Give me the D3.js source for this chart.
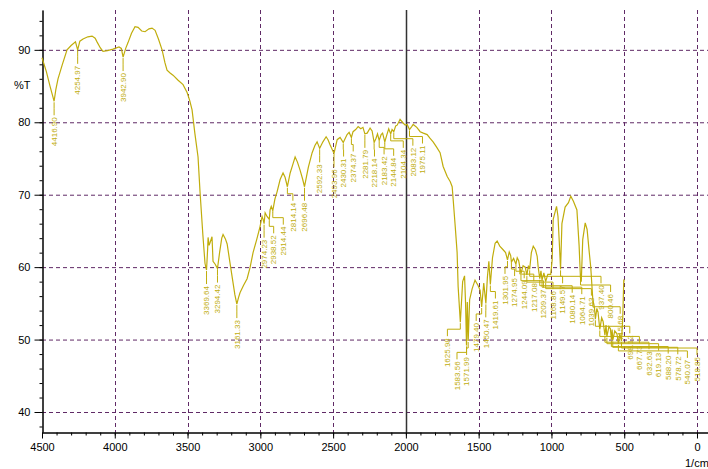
<!DOCTYPE html>
<html>
<head>
<meta charset="utf-8">
<script src="https://cdn.jsdelivr.net/npm/d3@7"></script>
<style>
  body { margin: 0; background: #fff; }
  svg { display: block; font-family: "Liberation Sans", Arial, sans-serif; }
</style>
</head>
<body>
<script>
// wavenumber (1/cm), %T
var spectrum = [
  [4500, 88.9], [4470, 87.0], [4445, 85.0], [4425, 83.5], [4416.9, 82.9], [4405, 84.5], [4390, 86.0],
  [4360, 88.0], [4328, 90.0], [4300, 90.6], [4270, 91.1], [4254.97, 90.0], [4240, 91.2], [4218, 91.5],
  [4185, 91.8], [4156, 91.9], [4135, 91.6], [4122, 91.1], [4100, 90.3], [4081, 89.8], [4050, 89.9],
  [4012, 90.1], [3971, 90.4], [3955, 90.2], [3942.9, 89.0], [3925, 90.2], [3909, 91.0], [3885, 92.3],
  [3861, 93.2], [3840, 93.1], [3815, 92.6], [3792, 92.5], [3765, 92.9], [3744, 93.0], [3723, 92.7],
  [3700, 91.5], [3675, 90.0], [3655, 88.2], [3641, 87.2], [3620, 86.8], [3600, 86.5], [3565, 85.8],
  [3531, 85.2], [3503, 84.1], [3485, 83.0], [3469, 81.7], [3450, 78.5], [3428, 75.2], [3414, 70.3],
  [3395, 64.5], [3380, 60.5], [3369.64, 59.6], [3362, 62.5], [3359, 64.1], [3352, 63.0], [3345, 63.4],
  [3332, 64.2], [3325, 60.8], [3310, 60.4], [3294.42, 59.8], [3280, 62.0], [3265, 64.0], [3256, 64.5],
  [3240, 63.9], [3228, 63.2], [3210, 60.8], [3194, 58.7], [3175, 56.2], [3161.33, 54.9], [3150, 55.8],
  [3139, 56.5], [3115, 57.5], [3091, 58.4], [3070, 60.0], [3050, 62.0], [3025, 63.8], [3002, 65.6],
  [2988, 67.0], [2981, 66.6], [2974.23, 66.0], [2967, 67.5], [2954, 67.0], [2938.52, 66.6], [2933, 67.9],
  [2925, 68.4], [2914.44, 67.8], [2900, 69.4], [2885, 70.4], [2864, 72.1], [2844, 73.0], [2830, 72.4],
  [2814.14, 71.1], [2795, 73.0], [2775, 74.3], [2761, 75.2], [2745, 74.5], [2727, 73.4], [2710, 72.2],
  [2696.48, 71.1], [2670, 73.8], [2644, 75.8], [2625, 76.8], [2610, 77.3], [2592.33, 76.4], [2570, 77.3],
  [2548, 78.0], [2535, 77.6], [2521, 76.9], [2493.96, 75.7], [2472, 77.6], [2452, 77.9], [2430.31, 77.2],
  [2404, 78.3], [2390, 78.6], [2374.37, 77.9], [2363, 78.7], [2345, 79.0], [2328, 79.4], [2310, 79.1],
  [2295, 79.3], [2281.79, 78.4], [2266, 78.5], [2246, 79.2], [2232, 78.8], [2218.14, 77.2], [2205, 77.8],
  [2195, 78.4], [2183.42, 77.5], [2170, 78.3], [2160, 78.5], [2144.84, 77.3], [2132, 78.2], [2118, 79.1],
  [2104.34, 78.4], [2095, 79.0], [2083.12, 78.7], [2070, 79.5], [2060, 79.6], [2040, 80.4], [2019, 79.9],
  [2005, 79.6], [1991, 79.7], [1975.11, 79.0], [1960, 79.4], [1950, 79.7], [1925, 79.3], [1902, 78.7],
  [1880, 78.5], [1854, 78.3], [1835, 77.8], [1813, 77.3], [1790, 76.6], [1765, 75.8], [1744, 73.9],
  [1716, 72.5], [1695, 71.8], [1682, 71.1], [1675, 69.3], [1661, 65.6], [1648, 62.0], [1641, 57.3],
  [1625.98, 52.4], [1610, 58.0], [1597, 58.8], [1590, 55.0], [1583.56, 49.2], [1578, 55.2], [1571.99, 49.8],
  [1562, 55.5], [1545, 57.0], [1525, 58.2], [1505, 57.5], [1490, 56.8], [1479.4, 54.5], [1465, 57.8],
  [1450.47, 55.0], [1440, 58.6], [1430, 60.8], [1419.61, 57.6], [1405, 61.3], [1387, 63.3], [1373, 63.6],
  [1355, 62.9], [1332, 62.4], [1315, 62.0], [1301.95, 61.0], [1290, 62.1], [1280, 61.6], [1274.95, 60.7],
  [1260, 61.2], [1244.09, 60.4], [1235, 61.3], [1225, 60.9], [1217.08, 60.0], [1209.37, 59.1], [1195, 60.2],
  [1180, 60.0], [1168.86, 58.9], [1158, 60.2], [1149.57, 59.7], [1138, 62.0], [1125, 62.9], [1110, 62.4],
  [1098, 61.5], [1091, 60.0], [1080.14, 58.4], [1072, 59.5], [1064.71, 58.2], [1052, 59.2], [1039.63, 58.0],
  [1025, 59.0], [1005, 59.0], [995, 61.0], [988, 66.6], [965, 68.4], [955, 67.0], [945, 63.0], [937.4, 59.7],
  [928, 66.0], [906, 68.3], [883, 68.9], [867, 69.8], [849, 69.1], [825, 67.9], [810, 63.0], [800.46, 58.5],
  [795, 58.0], [785, 63.8], [768, 66.1], [755, 65.2], [740, 62.0], [730, 60.0], [715.68, 55.5], [705, 54.5],
  [698.12, 52.8], [688, 54.3], [680, 53.8], [667.73, 51.4], [655, 53.0], [645, 52.5], [632.63, 50.6],
  [625, 52.0], [619.13, 50.4], [605, 51.8], [595, 51.5], [588.2, 50.0], [583, 51.4], [578.72, 49.9],
  [565, 51.2], [550, 50.8], [540.07, 49.4], [530, 50.8], [518.85, 49.8], [510, 53.0], [503, 58.3], [500, 58.0]
];

// labelled peaks (wavenumbers, must appear in spectrum)
var peaks = [4416.9, 4254.97, 3942.9, 3369.64, 3294.42, 3161.33, 2974.23, 2938.52, 2914.44, 2814.14,
  2696.48, 2592.33, 2493.96, 2430.31, 2374.37, 2281.79, 2218.14, 2183.42, 2144.84, 2104.34, 2083.12,
  1975.11, 1625.98, 1583.56, 1571.99, 1479.4, 1450.47, 1419.61, 1301.95, 1274.95, 1244.09, 1217.08,
  1209.37, 1168.86, 1149.57, 1080.14, 1064.71, 1039.63, 937.4, 800.46, 715.68, 698.12, 667.73, 632.63,
  619.13, 588.2, 578.72, 540.07, 518.85];

var xTicks = [4500, 4000, 3500, 3000, 2500, 2000, 1500, 1000, 500, 0];
var yTicks = [40, 50, 60, 70, 80, 90];

var width = 708, height = 469;
var lineColor = "#c0ad0c";
var gridColor = "#602a66";

var x = d3.scaleLinear().domain([4500, -75.6]).range([42, 708]);
var y = d3.scaleLinear().domain([37.24, 95.5]).range([432, 10]);

var svg = d3.select("body").append("svg")
  .attr("width", width)
  .attr("height", height);

svg.append("rect").attr("width", width).attr("height", height).attr("fill", "#fff");

// grid
svg.selectAll(".hgrid")
  .data(yTicks)
  .enter().append("line")
    .attr("x1", x(4500)).attr("x2", width)
    .attr("y1", function(d){ return y(d) + 0.5; })
    .attr("y2", function(d){ return y(d) + 0.5; })
    .attr("stroke", gridColor)
    .attr("stroke-dasharray", "4,3");

svg.selectAll(".vgrid")
  .data(xTicks.filter(function(d){ return d !== 4500; }))
  .enter().append("line")
    .attr("x1", function(d){ return Math.round(x(d)) + 0.5; })
    .attr("x2", function(d){ return Math.round(x(d)) + 0.5; })
    .attr("y1", y(95.5)).attr("y2", y(37.24))
    .attr("stroke", function(d){ return d === 2000 ? "#333" : gridColor; })
    .attr("stroke-width", function(d){ return d === 2000 ? 1.5 : 1; })
    .attr("stroke-dasharray", function(d){ return d === 2000 ? null : "4,3"; });

// axes
svg.append("g")
  .attr("transform", "translate(42.5,0)")
  .call(d3.axisLeft(y).tickValues(yTicks).tickSize(8).tickSizeOuter(0).tickPadding(4));
svg.append("g")
  .attr("transform", "translate(42.5,0)")
  .call(d3.axisLeft(y).tickValues(d3.range(38, 96, 2)).tickSize(3).tickSizeOuter(0).tickFormat(""));

svg.append("g")
  .attr("transform", "translate(0,432.5)")
  .call(d3.axisBottom(x).tickValues(xTicks).tickSize(6).tickSizeOuter(0).tickPadding(5)
        .tickFormat(d3.format("d")));
svg.append("g")
  .attr("transform", "translate(0,432.5)")
  .call(d3.axisBottom(x).tickValues(d3.range(4500, -100, -100)).tickSize(3).tickSizeOuter(0).tickFormat(""));

svg.selectAll(".tick text").attr("font-size", 11).attr("fill", "#000");
svg.selectAll(".domain").attr("stroke", "#000");

svg.append("text")
  .attr("x", 14).attr("y", 89)
  .attr("font-size", 11)
  .text("%T");

svg.append("text")
  .attr("x", 685).attr("y", 467)
  .attr("font-size", 11)
  .text("1/cm");

// spectrum
var line = d3.line()
  .x(function(d){ return x(d[0]); })
  .y(function(d){ return y(d[1]); });

svg.append("path")
  .datum(spectrum)
  .attr("d", line)
  .attr("fill", "none")
  .attr("stroke", lineColor)
  .attr("stroke-width", 1.2);

// peak labels: spread to avoid overlaps
var gap = 9.6;
var pk = peaks.map(function(w){
  var p = spectrum.find(function(d){ return d[0] === w; });
  return { w: w, t: p[1], px: x(w), py: y(p[1]) };
}).sort(function(a, b){ return a.px - b.px; });

pk.forEach(function(d, i){
  d.lx = i === 0 ? d.px : Math.max(d.px, pk[i - 1].lx + gap);
});
for (var i = pk.length - 1; i >= 0; i--) {
  var lim = i === pk.length - 1 ? x(0) : pk[i + 1].lx - gap;
  pk[i].lx = Math.min(pk[i].lx, lim);
}

var labels = svg.append("g");

labels.selectAll("path")
  .data(pk)
  .enter().append("path")
    .attr("d", function(d){
      return "M" + d.px + "," + (d.py + 1) + "V" + (d.py + 7) + "H" + d.lx + "V" + (d.py + 14);
    })
    .attr("fill", "none")
    .attr("stroke", lineColor)
    .attr("stroke-width", 1);

labels.selectAll("text")
  .data(pk)
  .enter().append("text")
    .attr("transform", function(d){ return "translate(" + d.lx + "," + (d.py + 16) + ") rotate(-90)"; })
    .attr("text-anchor", "end")
    .attr("dy", "0.35em")
    .attr("font-size", 8)
    .attr("fill", lineColor)
    .text(function(d){ return d.w.toFixed(2); });
</script>
</body>
</html>
